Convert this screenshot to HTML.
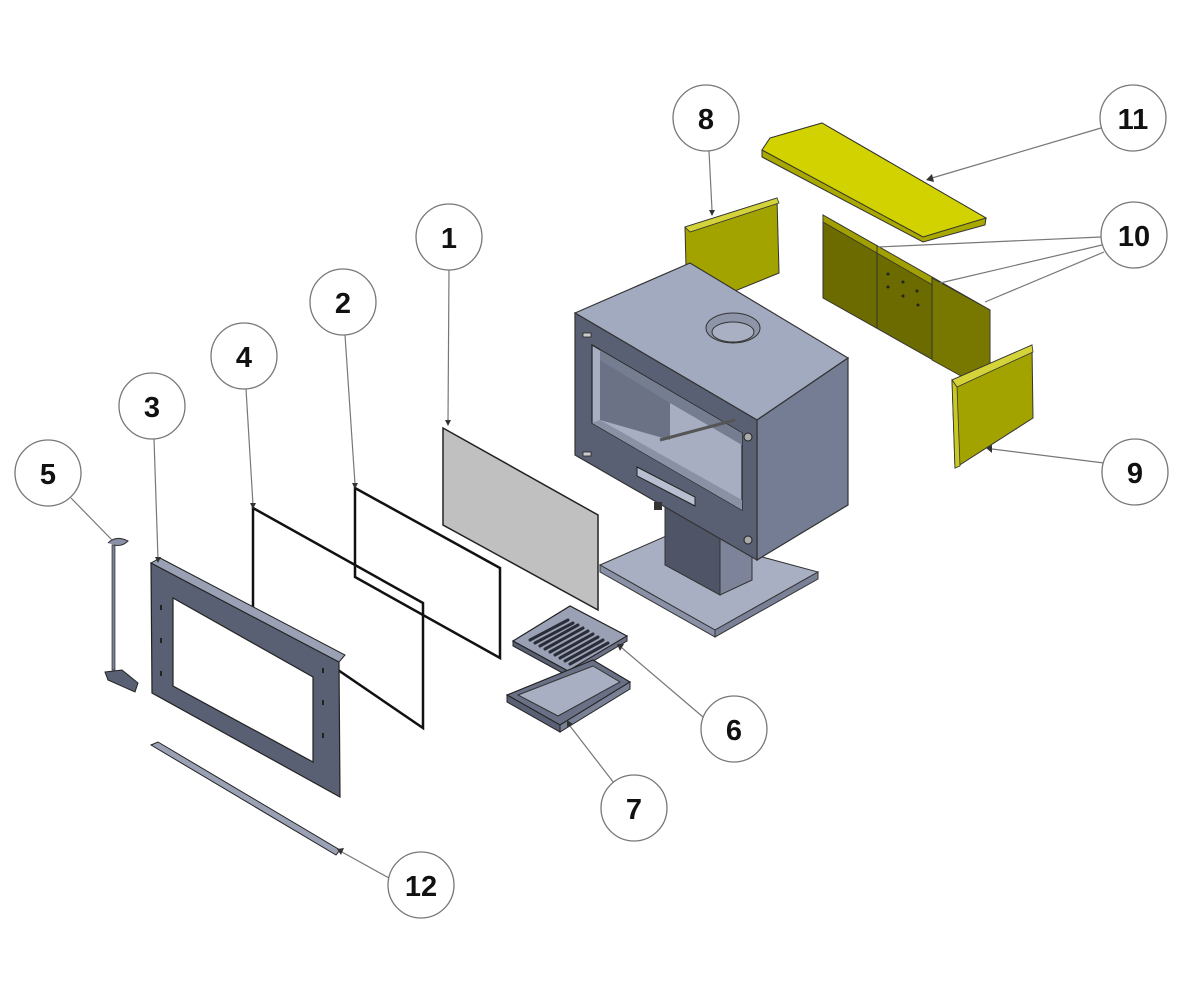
<!DOCTYPE html>
<html><head><meta charset="utf-8"><style>
html,body{margin:0;padding:0;background:#fff;}
svg{display:block}
text{font-family:"Liberation Sans",sans-serif;font-weight:bold;font-size:29px;text-anchor:middle;fill:#111}
.c{fill:#fff;stroke:#777;stroke-width:1.3}
.l{stroke:#777;stroke-width:1.2;fill:none}
.a{fill:#333}
</style></head><body>
<svg width="1200" height="1000" viewBox="0 0 1200 1000" xmlns="http://www.w3.org/2000/svg">
<!-- Brick 8 -->
<polygon points="685,227 777,198 779,273 730,293 686,267" fill="#a3a300" stroke="#333" stroke-width="1"/>
<polygon points="685,227 777,198 779,203 690,232" fill="#d4d43a" stroke="#333" stroke-width="0.8"/>
<!-- Brick 11 -->
<polygon points="762,150 770,138 822,123 986,218 985,225 923,242 762,157" fill="#a8a800" stroke="#333" stroke-width="1"/>
<polygon points="762,150 770,138 822,123 986,218 923,237" fill="#d2d200" stroke="#333" stroke-width="1"/>
<!-- Brick 10 -->
<polygon points="823,215 990,310 990,392 823,298" fill="#6b6b00" stroke="#333" stroke-width="1"/>
<polygon points="823,215 990,310 990,318 823,222" fill="#a0a000" stroke="#333" stroke-width="0.8"/>
<polygon points="932,278 990,310 990,392 932,360" fill="#787800" stroke="#333" stroke-width="0.8"/>
<line x1="877" y1="245" x2="877" y2="328" stroke="#333"/>
<line x1="932" y1="278" x2="932" y2="360" stroke="#333"/>
<g fill="#222"><circle cx="888" cy="274" r="1.5"/><circle cx="888" cy="287" r="1.5"/><circle cx="903" cy="282" r="1.5"/><circle cx="917" cy="291" r="1.5"/><circle cx="903" cy="296" r="1.5"/><circle cx="918" cy="305" r="1.5"/></g>
<!-- Brick 9 -->
<polygon points="952,380 1032,345 1033,418 955,468" fill="#a3a300" stroke="#333" stroke-width="1"/>
<polygon points="952,380 1032,345 1033,352 957,387" fill="#d4d43a" stroke="#333" stroke-width="0.8"/>
<polygon points="952,380 957,387 960,466 955,468" fill="#c8c820" stroke="#333" stroke-width="0.8"/>
<!-- Base plate -->
<polygon points="600,565 673,533 818,572 715,630" fill="#a8afc2" stroke="#333" stroke-width="1"/>
<polygon points="600,565 715,630 715,637 600,572" fill="#8a90a5" stroke="#333" stroke-width="1"/>
<polygon points="715,630 818,572 818,579 715,637" fill="#7a8095" stroke="#333" stroke-width="1"/>
<!-- Pedestal -->
<polygon points="665,505 720,537 720,595 665,565" fill="#4f5466" stroke="#333"/>
<polygon points="720,537 752,520 752,580 720,595" fill="#7d8399" stroke="#333"/>
<!-- Stove body -->
<polygon points="575,313 690,263 848,358 757,420" fill="#a2aabf" stroke="#333" stroke-width="1.2"/>
<polygon points="757,420 848,358 848,505 757,560" fill="#747d94" stroke="#333" stroke-width="1.2"/>
<polygon points="575,313 757,420 757,560 575,455" fill="#5a6073" stroke="#333" stroke-width="1.2"/>
<polygon points="592,345 742,433 742,510 592,423" fill="#a7aec2" stroke="#222" stroke-width="1.2"/>
<polygon points="600,350 742,433 742,445 670,403 600,400" fill="#757d90"/>
<polygon points="600,360 670,403 670,440 600,420" fill="#6b7285"/>
<polygon points="600,420 742,500 742,510 592,423" fill="#8a91a5"/>
<line x1="660" y1="440" x2="735" y2="420" stroke="#555" stroke-width="3"/>
<polygon points="637,467 695,497 695,506 637,476" fill="#b8bfd0" stroke="#222"/>
<ellipse cx="733" cy="328" rx="27" ry="15" fill="#8e95a8" stroke="#333"/>
<ellipse cx="733" cy="332" rx="21" ry="10" fill="#a9b0c3" stroke="#333"/>
<circle cx="748" cy="437" r="4" fill="#aaa" stroke="#222"/>
<circle cx="748" cy="540" r="4" fill="#aaa" stroke="#222"/>
<rect x="583" y="333" width="8" height="4" fill="#ccc" stroke="#222" stroke-width="0.8"/>
<rect x="583" y="452" width="8" height="4" fill="#ccc" stroke="#222" stroke-width="0.8"/>
<rect x="654" y="502" width="8" height="8" fill="#333"/>
<!-- Glass 1 -->
<polygon points="443,428 598,515 598,610 443,525" fill="#c0c0c0" stroke="#222" stroke-width="1.5"/>
<!-- Gasket 2 -->
<polygon points="355,488 500,568 500,658 355,577" fill="none" stroke="#111" stroke-width="2.5"/>
<!-- Gasket 4 -->
<polygon points="253,508 423,603 423,728 253,612" fill="none" stroke="#111" stroke-width="2.5"/>
<!-- Grate 6 -->
<polygon points="513,641 570,606 627,636 568,671" fill="#9aa1b5" stroke="#222" stroke-width="1.2"/>
<polygon points="513,641 568,671 568,676 513,646" fill="#5a6073" stroke="#222"/>
<polygon points="568,671 627,636 627,641 568,676" fill="#6a7085" stroke="#222"/>
<g stroke="#2a2d38" stroke-width="3" stroke-linecap="round">
<line x1="530" y1="640" x2="568" y2="620"/><line x1="535" y1="643" x2="573" y2="623"/><line x1="540" y1="646" x2="578" y2="625"/><line x1="545" y1="649" x2="583" y2="628"/><line x1="550" y1="652" x2="588" y2="631"/><line x1="555" y1="655" x2="593" y2="634"/><line x1="560" y1="658" x2="598" y2="637"/><line x1="565" y1="661" x2="603" y2="640"/><line x1="570" y1="664" x2="608" y2="643"/></g>
<!-- Ash pan 7 -->
<polygon points="507,695 593,660 630,682 560,725" fill="#6a7085" stroke="#222" stroke-width="1.2"/>
<polygon points="518,695 593,666 620,682 558,716" fill="#a8afc2" stroke="#333"/>
<polygon points="507,695 560,725 560,732 507,702" fill="#5a6073" stroke="#222"/>
<polygon points="560,725 630,682 630,689 560,732" fill="#7a8095" stroke="#222"/>
<!-- Door frame 3 -->
<path fill-rule="evenodd" d="M151,563 L339,662 L340,797 L152,693 Z M173,598 L313,677 L313,762 L173,686 Z" fill="#5a6073" stroke="#222" stroke-width="1.2"/>
<polygon points="151,563 160,558 345,655 339,662" fill="#9aa1b5" stroke="#222"/>
<g fill="#222"><rect x="160" y="605" width="2" height="5"/><rect x="160" y="638" width="2" height="5"/><rect x="160" y="671" width="2" height="5"/><rect x="322" y="668" width="2" height="5"/><rect x="322" y="700" width="2" height="5"/><rect x="322" y="733" width="2" height="5"/></g>
<!-- Strip 12 -->
<polygon points="151,745 158,742 340,850 336,855" fill="#9aa1b5" stroke="#222"/>
<!-- Rod 5 -->
<rect x="112" y="545" width="3" height="125" fill="#7a8095" stroke="#333" stroke-width="0.7"/>
<path d="M108,543 q8,-8 20,-2 q-6,6 -14,4" fill="#8a90a5" stroke="#333"/>
<polygon points="105,672 122,670 138,683 135,692 108,680" fill="#5a6073" stroke="#222"/>
<!-- Leaders -->
<g class="l">
<line x1="709" y1="151" x2="712" y2="210"/>
<line x1="1101" y1="128" x2="932" y2="178"/>
<line x1="1101" y1="237" x2="878" y2="247"/>
<line x1="1102" y1="245" x2="940" y2="283"/>
<line x1="1104" y1="252" x2="985" y2="302"/>
<line x1="449" y1="270" x2="448" y2="422"/>
<line x1="345" y1="335" x2="355" y2="484"/>
<line x1="246" y1="389" x2="253" y2="505"/>
<line x1="154" y1="439" x2="158" y2="559"/>
<line x1="71" y1="498" x2="112" y2="540"/>
<line x1="1104" y1="463" x2="992" y2="449"/>
<line x1="703" y1="717" x2="622" y2="648"/>
<line x1="614" y1="783" x2="570" y2="726"/>
<line x1="389" y1="878" x2="342" y2="852"/>
</g>
<g class="a">
<polygon points="709,210 715,210 712,216"/>
<polygon points="932,174 934,182 926,180"/>
<polygon points="445,420 451,420 448,426"/>
<polygon points="352,483 358,483 355,489"/>
<polygon points="250,503 256,503 253,509"/>
<polygon points="155,557 161,557 158,563"/>
<polygon points="992,445 992,453 986,448"/>
<polygon points="624,644 620,651 617,644"/>
<polygon points="573,724 567,727 567,720"/>
<polygon points="344,848 341,855 337,849"/>
</g>
<!-- Balloons -->
<circle class="c" cx="706" cy="118" r="33"/><text x="706" y="129">8</text>
<circle class="c" cx="1133" cy="118" r="33"/><text x="1133" y="129">11</text>
<circle class="c" cx="1134" cy="235" r="33"/><text x="1134" y="246">10</text>
<circle class="c" cx="449" cy="237" r="33"/><text x="449" y="248">1</text>
<circle class="c" cx="343" cy="302" r="33"/><text x="343" y="313">2</text>
<circle class="c" cx="244" cy="356" r="33"/><text x="244" y="367">4</text>
<circle class="c" cx="152" cy="406" r="33"/><text x="152" y="417">3</text>
<circle class="c" cx="48" cy="473" r="33"/><text x="48" y="484">5</text>
<circle class="c" cx="1135" cy="472" r="33"/><text x="1135" y="483">9</text>
<circle class="c" cx="734" cy="729" r="33"/><text x="734" y="740">6</text>
<circle class="c" cx="634" cy="808" r="33"/><text x="634" y="819">7</text>
<circle class="c" cx="421" cy="885" r="33"/><text x="421" y="896">12</text>
</svg>
</body></html>
